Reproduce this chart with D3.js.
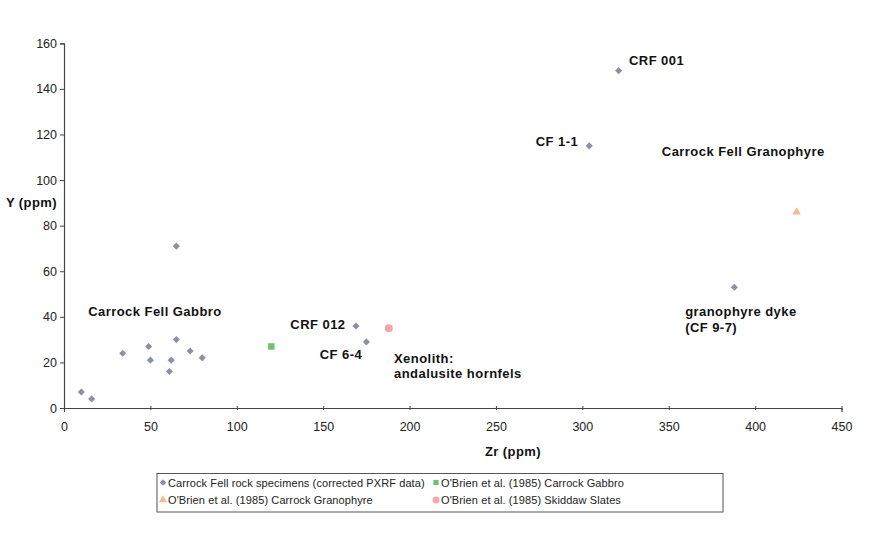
<!DOCTYPE html>
<html><head><meta charset="utf-8">
<script src="https://cdn.jsdelivr.net/npm/d3@7"></script>
<style>body{margin:0;background:#fff}svg{display:block;font-family:Arial,"Liberation Sans",sans-serif}</style>
</head><body><svg id="c" width="879" height="535"></svg>
<script>
// Data
const xTicks = [0,50,100,150,200,250,300,350,400,450];
const yTicks = [0,20,40,60,80,100,120,140,160];
const specimensZr = [10,16,34,49,50,65,65,62,61,73,80,169,175,321,304,388];
const specimensY  = [7,4,24,27,21,71,30,21,16,25,22,36,29,148,115,53];
const gabbroZr = [120], gabbroY = [27];
const granophyreZr = [424], granophyreY = [86];
const slatesZr = [188], slatesY = [35];
const labels = [
  {t:"CRF 001", zr:327, y:150.5},
  {t:"CF 1-1", zr:273, y:115},
  {t:"Carrock Fell Granophyre", zr:346, y:110.5},
  {t:"Carrock Fell Gabbro", zr:14, y:40.5},
  {t:"CRF 012", zr:131, y:34.8},
  {t:"CF 6-4", zr:148, y:21.6},
  {t:"Xenolith:", zr:191, y:19.8},
  {t:"andalusite hornfels", zr:191, y:13.2},
  {t:"granophyre dyke", zr:359.5, y:40.3},
  {t:"(CF 9-7)", zr:359.5, y:33.5}
];
const legendItems = [
  {t:"Carrock Fell rock specimens (corrected PXRF data)", k:"diamond"},
  {t:"O'Brien et al. (1985) Carrock Gabbro", k:"square"},
  {t:"O'Brien et al. (1985) Carrock Granophyre", k:"triangle"},
  {t:"O'Brien et al. (1985) Skiddaw Slates", k:"circle"}
];

const colors = {diamond:"#8a90a6", square:"#6cc46c", triangle:"#f6b98a", circle:"#f3a7ad"};
const svg = d3.select("#c");
const x = d3.scaleLinear().domain([0,450]).range([64,841.5]);
const y = d3.scaleLinear().domain([0,160]).range([408,43.3]);

const shape = {
  diamond: d3.symbol().type(d3.symbolDiamond2).size(32),
  square: d3.symbol().type(d3.symbolSquare).size(42),
  triangle: d3.symbol().type(d3.symbolTriangle).size(30),
  circle: d3.symbol().type(d3.symbolCircle).size(50)
};

// axes
const xa = svg.append("g").attr("transform","translate(0,408)")
  .call(d3.axisBottom(x).tickValues(xTicks).tickSize(4).tickPadding(10));
const ya = svg.append("g").attr("transform","translate(64,0)")
  .call(d3.axisLeft(y).tickValues(yTicks).tickSize(4).tickPadding(3));
[xa,ya].forEach(a=>{
  a.select(".domain").attr("stroke","#444").attr("stroke-width",1.2);
  a.selectAll(".tick line").attr("stroke","#444");
  a.selectAll(".tick text").attr("fill","#222").style("font-size","12.5px").style("font-family","Arial,'Liberation Sans',sans-serif");
});
xa.selectAll(".tick line").attr("y1",-2).attr("y2",2);
ya.selectAll(".tick line").attr("x1",0).attr("x2",-4);

// axis titles
svg.append("text").attr("x",6).attr("y",207).text("Y (ppm)")
  .style("font-size","13px").style("letter-spacing","0.4px").style("font-weight","bold").attr("fill","#111");
svg.append("text").attr("x",485).attr("y",456).text("Zr (ppm)")
  .style("font-size","13px").style("letter-spacing","0.4px").style("font-weight","bold").attr("fill","#111");

// points
function plot(zr, yy, k){
  svg.append("g").selectAll("path").data(zr.map((v,i)=>[v,yy[i]])).join("path")
    .attr("d", shape[k]).attr("fill", colors[k])
    .attr("transform", d=>`translate(${x(d[0])},${y(d[1])})`);
}
plot(specimensZr, specimensY, "diamond");
plot(gabbroZr, gabbroY, "square");
plot(granophyreZr, granophyreY, "triangle");
plot(slatesZr, slatesY, "circle");

// labels
svg.append("g").selectAll("text").data(labels).join("text")
  .attr("x", d=>x(d.zr)).attr("y", d=>y(d.y)).text(d=>d.t)
  .style("font-size","13px").style("letter-spacing","0.45px").style("font-weight","bold").attr("fill","#111");

// legend
const lg = svg.append("g");
lg.append("rect").attr("x",157).attr("y",473.5).attr("width",566).attr("height",38.5)
  .attr("fill","none").attr("stroke","#555").attr("stroke-width",1);
const lx = [163,436], lyy = [482.5,500];
legendItems.forEach((it,i)=>{
  const cx = lx[i%2], cy = lyy[Math.floor(i/2)];
  lg.append("path").attr("d", d3.symbol().type({diamond:d3.symbolDiamond2,square:d3.symbolSquare,triangle:d3.symbolTriangle,circle:d3.symbolCircle}[it.k]).size(it.k==="circle"?38:28))
    .attr("fill", colors[it.k]).attr("transform",`translate(${cx},${cy})`);
  lg.append("text").attr("x",cx+5).attr("y",cy+4).text(it.t)
    .style("font-size","11px").style("letter-spacing","0.1px").attr("fill","#222");
});
</script></body></html>
